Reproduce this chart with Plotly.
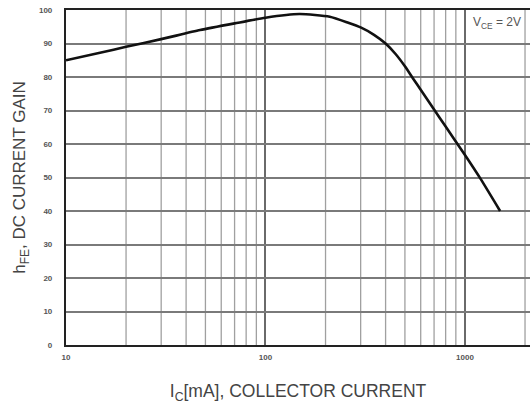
import plotly.graph_objects as go

ic_ma = [10, 15, 20, 30, 47, 70, 100, 148, 210, 260, 300, 350, 400, 450, 500, 550, 600, 700, 800, 1000, 1200, 1500]
hfe = [85, 87.3, 89, 91.3, 94, 96, 97.7, 98.8, 98, 96.2, 94.8, 92.6, 90, 86.8, 83.2, 79.5, 76.2, 70.3, 65.2, 56.7, 49.5, 40]

y_ticks = [0, 10, 20, 30, 40, 50, 60, 70, 80, 90, 100]
x_ticks = [10, 100, 1000]
x_minor = [m * d for d in (10, 100, 1000) for m in range(2, 10)]

FONT = "Liberation Sans, Arial, sans-serif"

fig = go.Figure()

for xv in x_minor:
    fig.add_shape(type="line", x0=xv, x1=xv, y0=0, y1=100, xref="x", yref="y",
                  line=dict(color="#a0a0a0", width=1.3), layer="below")

fig.add_trace(go.Scatter(x=ic_ma, y=hfe, mode="lines",
                         line=dict(color="#111", width=2.6, shape="spline", smoothing=0.6),
                         showlegend=False, hoverinfo="skip", cliponaxis=False))

fig.add_annotation(x=0.985, y=0.99, xref="paper", yref="paper", xanchor="right", yanchor="top",
                   text="V<sub>CE</sub> = 2V", showarrow=False,
                   font=dict(family=FONT, size=12, color="#555"))

fig.update_xaxes(type="log", range=[1, 3.326], tickvals=x_ticks, ticktext=["<b>%d</b>" % v for v in x_ticks],
                 showgrid=True, gridcolor="#6a6a6a", gridwidth=1.6,
                 showline=True, linecolor="#222", linewidth=2.2, mirror=True,
                 ticks="", ticklabelstandoff=3, tickfont=dict(family=FONT, size=8, color="#555"),
                 title=dict(text="I<sub>C</sub>[mA], COLLECTOR CURRENT", standoff=24,
                            font=dict(family=FONT, size=17.5, color="#444")),
                 zeroline=False)
fig.update_yaxes(range=[0, 100], tickvals=y_ticks, ticktext=["<b>%d</b>" % v for v in y_ticks],
                 showgrid=True, gridcolor="#7a7a7a", gridwidth=1.6,
                 showline=True, linecolor="#222", linewidth=2.2,
                 ticks="", ticklabelstandoff=10, tickfont=dict(family=FONT, size=8, color="#555"),
                 title=dict(text="h<sub>FE</sub>, DC CURRENT GAIN", standoff=9,
                            font=dict(family=FONT, size=17, color="#444")),
                 zeroline=False)

fig.update_layout(width=530, height=408, margin=dict(l=66, r=0, t=10, b=63, autoexpand=False),
                  plot_bgcolor="white", paper_bgcolor="white")

fig.write_html("out.html", config={"displayModeBar": False},
               post_script="document.body.style.margin='0';")
